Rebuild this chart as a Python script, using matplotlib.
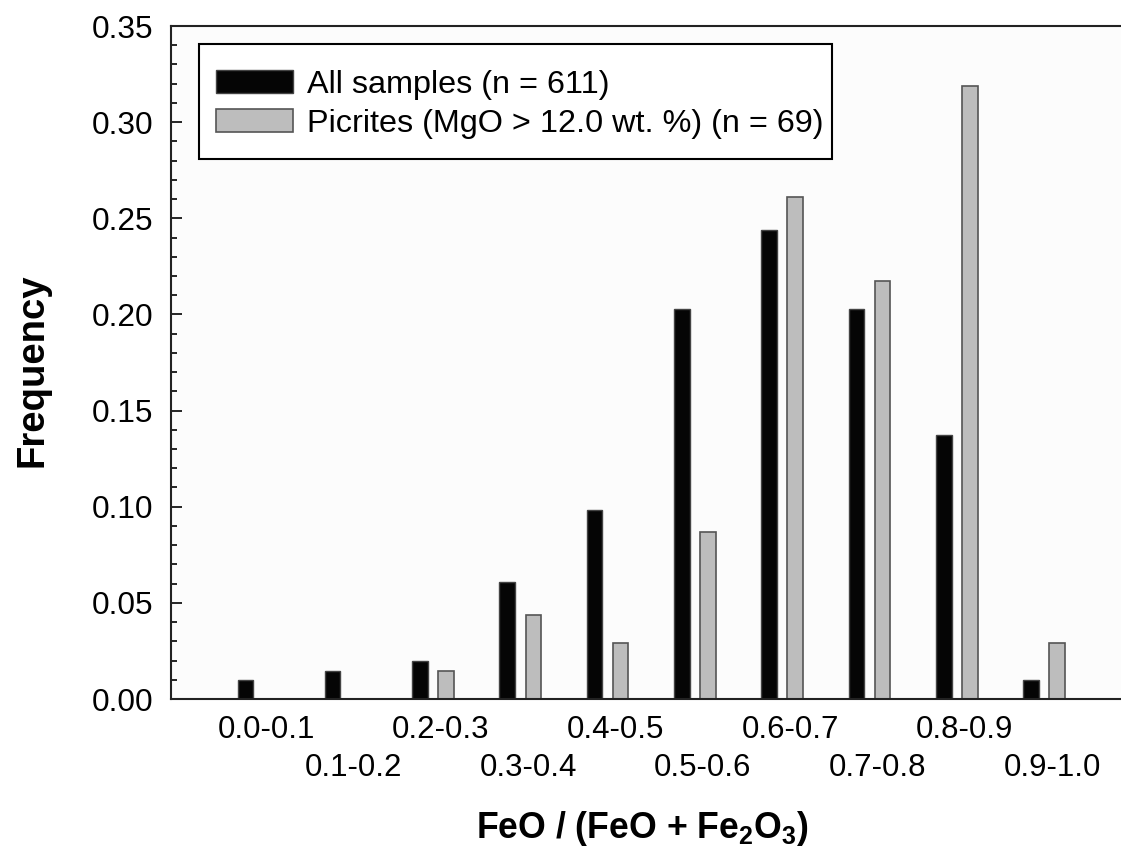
import matplotlib
matplotlib.use("Agg")
import matplotlib.pyplot as plt
import numpy as np
from matplotlib.patches import Rectangle
from matplotlib.ticker import MultipleLocator

plt.rcParams['font.family'] = ['Liberation Sans', 'DejaVu Sans']
plt.rcParams['mathtext.fontset'] = 'custom'
plt.rcParams['mathtext.rm'] = 'Liberation Sans'
plt.rcParams['mathtext.bf'] = 'Liberation Sans:bold'

# data
bins = ["0.0-0.1", "0.1-0.2", "0.2-0.3", "0.3-0.4", "0.4-0.5",
        "0.5-0.6", "0.6-0.7", "0.7-0.8", "0.8-0.9", "0.9-1.0"]
all_samples = [0.0098, 0.0147, 0.0196, 0.0606, 0.0982,
               0.2029, 0.2438, 0.2029, 0.1375, 0.0098]
picrites = [0.0, 0.0, 0.0145, 0.0435, 0.0290,
            0.0870, 0.2609, 0.2174, 0.3188, 0.0290]

fig = plt.figure(figsize=(11.21, 8.47), dpi=100)
ax = fig.add_axes([171 / 1121, 148 / 847, 960.5 / 1121, 673 / 847])
ax.set_facecolor('#fcfcfc')

x = np.arange(len(bins))
w = 0.178
off = 0.149
ax.bar(x - off, all_samples, w, color='#050505', edgecolor='#444444',
       linewidth=1, label='All samples (n = 611)')
pic = np.array(picrites)
ax.bar(x[pic > 0] + off, pic[pic > 0], w, color='#bdbdbd', edgecolor='#555555',
       linewidth=1.2, label='Picrites (MgO > 12.0 wt. %) (n = 69)')

ax.set_xlim(-1.0, 10.0)
ax.set_ylim(0, 0.35)
ax.yaxis.set_major_locator(MultipleLocator(0.05))
ax.yaxis.set_minor_locator(MultipleLocator(0.01))
ax.yaxis.set_major_formatter(plt.FuncFormatter(lambda v, p: f"{v:.2f}"))
ax.tick_params(axis='y', which='major', direction='in', length=8, width=1.2,
               labelsize=22.8, pad=13)
ax.tick_params(axis='y', which='minor', direction='in', length=4.5, width=1.2)
ax.set_xticks([])
for s in ax.spines.values():
    s.set_linewidth(1.5)
    s.set_color('#222222')

# staggered category labels
for i, lab in enumerate(bins):
    dy = -11.5 if i % 2 == 0 else -38.9
    ax.annotate(lab, xy=(i + 0.09, 0), xycoords=('data', 'axes fraction'),
                xytext=(0, dy), textcoords='offset points',
                ha='center', va='top', fontsize=22.5)

# legend box drawn separately so its padding can match
ax.add_patch(Rectangle((28 / 960.5, 540 / 673), 633 / 960.5, 115 / 673,
                       transform=ax.transAxes, facecolor='white',
                       edgecolor='black', linewidth=1.5, zorder=4))
leg = ax.legend(loc='upper left', bbox_to_anchor=(45 / 960.5, 629 / 673),
                borderaxespad=0, borderpad=0, fontsize=23.3, frameon=False,
                handlelength=2.375, handleheight=0.7, handletextpad=0.44,
                labelspacing=0.28)
leg.set_zorder(5)

fig.text(33 / 1121, 1 - 370 / 847, 'Frequency', rotation=90, ha='center',
         va='center', fontsize=27.5, fontweight='bold')
fig.text(642 / 1121, 1 - 838 / 847,
         r'FeO / (FeO + Fe$_\mathbf{2}$O$_\mathbf{3}$)',
         ha='center', va='baseline', fontsize=25.7, fontweight='bold')

fig.savefig('out.png', dpi=100)
